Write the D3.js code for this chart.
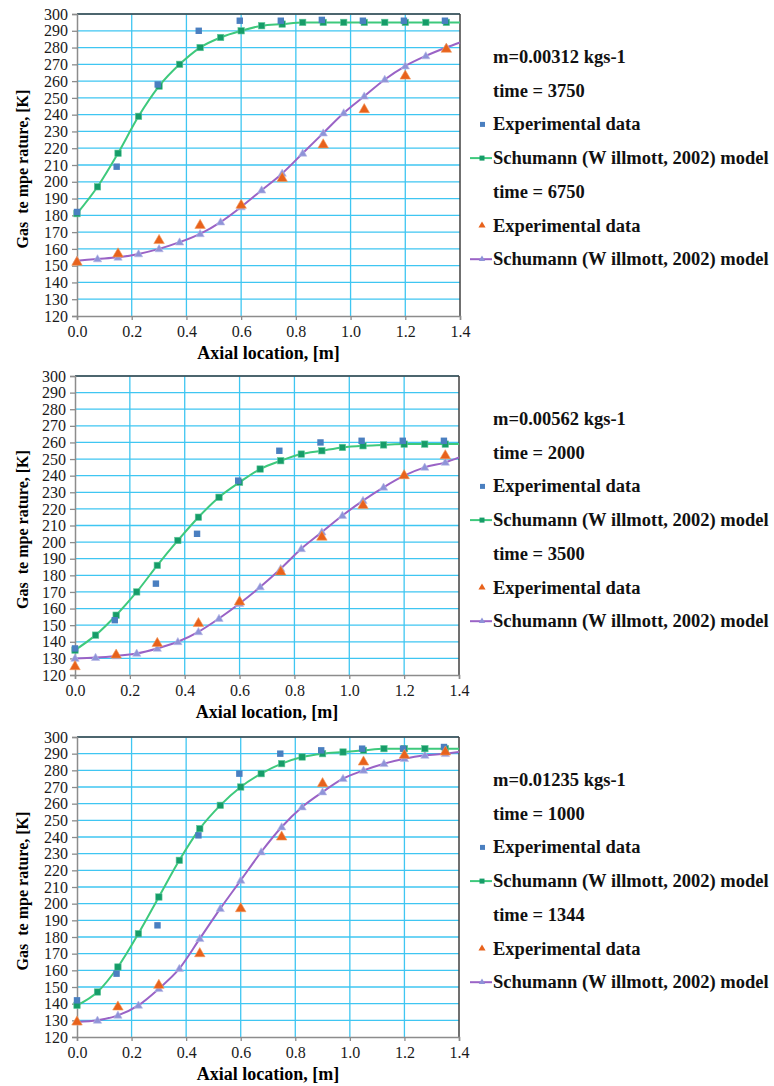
<!DOCTYPE html>
<html>
<head>
<meta charset="utf-8">
<script src="https://cdn.jsdelivr.net/npm/d3@7"></script>
<style>
  html, body { margin: 0; padding: 0; background: #fff; }
  svg { display: block; }
</style>
</head>
<body>
<svg id="chart" width="774" height="1086"></svg>
<script>
// ---------- data ----------
const yTicks = [120,130,140,150,160,170,180,190,200,210,220,230,240,250,260,270,280,290,300];
const xTicks = [0.0,0.2,0.4,0.6,0.8,1.0,1.2,1.4];

// model x positions (last point = line end at 1.4, no marker)
const xModel = [0,0.075,0.15,0.225,0.3,0.375,0.45,0.525,0.6,0.675,0.75,0.825,0.9,0.975,1.05,1.125,1.2,1.275,1.35,1.4];
const xExpBlue = [0,0.145,0.295,0.445,0.595,0.745,0.895,1.045,1.195,1.345];
const xExpOrange = [0,0.15,0.3,0.45,0.6,0.75,0.9,1.05,1.2,1.35];

// Panel 1: m=0.00312 kgs-1
const p1ModelA = [181,197,217,239,257,270,280,286,290,293,294,295,295,295,295,295,295,295,295,295];
const p1ExpA   = [182,209,258,290,296,296,296.5,296,296,296];
const p1ModelB = [153,154,155,157,160,164,169,176,185,195,205,217,229,241,251,261,269,275,280,283];
const p1ExpB   = [152,157,165,174,186,202,222,243,263,279];

// Panel 2: m=0.00562 kgs-1
const p2ModelA = [135,144,156,170,186,201,215,227,236,244,249,253,255,257,258,258.5,259,259,259,259];
const p2ExpA   = [136,153,175,205,237,255,260,261,261,261];
const p2ModelB = [130,130.5,131.5,133,136,140,146,154,163,173,184,196,206,216,225,233,240,245,248,251];
const p2ExpB   = [125,132,139,151,164,182,203,222,240,252];

// Panel 3: m=0.01235 kgs-1
const p3ModelA = [139,147,162,182,204,226,245,259,270,278,284,288,290,291,292,293,293,293,293,293];
const p3ExpA   = [142,158,187,241,278,290,292,293,293,294];
const p3ModelB = [129,130,133,139,149,161,179,197,214,231,246,258,267,275,280,284,287,289,290,291];
const p3ExpB   = [129,138,151,170,197,240,272,285,289,291];

const massLabels = ["m=0.00312 kgs-1", "m=0.00562 kgs-1", "m=0.01235 kgs-1"];
const timeA = ["time = 3750", "time = 2000", "time = 1000"];
const timeB = ["time = 6750", "time = 3500", "time = 1344"];
const expLabel = "Experimental data";
const modelLabel = "Schumann (W illmott, 2002) model";
const yTitle = "Gas  te mpe rature, [K]";
const xTitle = "Axial location, [m]";

// ---------- layout ----------
const FONT = "Liberation Serif";
const panels = [
  { top: 14,  bottom: 316,  left: 77, right: 460, mA: p1ModelA, eA: p1ExpA, mB: p1ModelB, eB: p1ExpB },
  { top: 376, bottom: 675,  left: 75, right: 459, mA: p2ModelA, eA: p2ExpA, mB: p2ModelB, eB: p2ExpB },
  { top: 737, bottom: 1037, left: 77, right: 459, mA: p3ModelA, eA: p3ExpA, mB: p3ModelB, eB: p3ExpB }
];

const C = {
  grid: "#3fc6f2",
  axis: "#8c8c8c",
  frame: "#404040",
  blue: "#4a7fc0",
  greenLine: "#3ec97c",
  greenMark: "#169c68",
  purpleLine: "#9a63c6",
  purpleMark: "#8f93d8",
  orange: "#e8621c"
};

const svg = d3.select("#chart");

panels.forEach((p, i) => {
  const x = d3.scaleLinear().domain([0, 1.4]).range([p.left, p.right]);
  const y = d3.scaleLinear().domain([120, 300]).range([p.bottom, p.top]);
  const g = svg.append("g");

  // grid
  g.append("g").selectAll("line.h").data(yTicks.slice(1)).join("line")
    .attr("x1", p.left).attr("x2", p.right)
    .attr("y1", d => y(d)).attr("y2", d => y(d))
    .attr("stroke", C.grid).attr("stroke-width", 1.3);
  g.append("g").selectAll("line.v").data(xTicks.slice(1, -1)).join("line")
    .attr("x1", d => x(d)).attr("x2", d => x(d))
    .attr("y1", p.top).attr("y2", p.bottom)
    .attr("stroke", C.grid).attr("stroke-width", 1.3);

  // frame top & right
  g.append("line").attr("x1", p.left).attr("x2", p.right).attr("y1", p.top).attr("y2", p.top)
    .attr("stroke", C.frame).attr("stroke-width", 1.5);
  g.append("line").attr("x1", p.right).attr("x2", p.right).attr("y1", p.top).attr("y2", p.bottom)
    .attr("stroke", C.frame).attr("stroke-width", 1.5);

  // axes
  const yAxis = d3.axisLeft(y).tickValues(yTicks).tickSize(5).tickPadding(4).tickFormat(d3.format("d"));
  const yg = g.append("g").attr("transform", `translate(${p.left},0)`).call(yAxis);
  const xAxis = d3.axisBottom(x).tickValues(xTicks).tickSize(4).tickPadding(6).tickFormat(d3.format(".1f"));
  const xg = g.append("g").attr("transform", `translate(0,${p.bottom})`).call(xAxis);
  [yg, xg].forEach(a => {
    a.attr("font-family", FONT).attr("font-size", 16);
    a.select(".domain").attr("stroke", C.axis).attr("stroke-width", 1.5);
    a.selectAll(".tick line").attr("stroke", C.axis).attr("stroke-width", 1.3);
    a.selectAll(".tick text").attr("font-family", FONT).attr("font-size", 16).attr("fill", "#1a1a1a");
  });

  // axis titles
  g.append("text")
    .attr("transform", `translate(22,${(p.top + p.bottom) / 2 + 4}) rotate(-90)`)
    .attr("text-anchor", "middle").attr("dominant-baseline", "central")
    .attr("font-family", FONT).attr("font-weight", "bold").attr("font-size", 16)
    .style("white-space", "pre")
    .text(yTitle);
  g.append("text")
    .attr("x", (p.left + p.right) / 2).attr("y", p.bottom + 43)
    .attr("text-anchor", "middle")
    .attr("font-family", FONT).attr("font-weight", "bold").attr("font-size", 18)
    .text(xTitle);

  // model lines
  const line = d3.line().x((d, k) => x(xModel[k])).y(d => y(d)).curve(d3.curveMonotoneX);
  g.append("path").attr("d", line(p.mA)).attr("fill", "none")
    .attr("stroke", C.greenLine).attr("stroke-width", 2);
  g.append("path").attr("d", line(p.mB)).attr("fill", "none")
    .attr("stroke", C.purpleLine).attr("stroke-width", 2);

  const tri = d3.symbol().type(d3.symbolTriangle);

  // model markers (not at line end)
  const mk = xModel.slice(0, -1);
  g.append("g").selectAll("path").data(mk).join("path")
    .attr("transform", (d, k) => `translate(${x(d)},${y(p.mB[k]) + 0.5})`)
    .attr("d", tri.size(30)())
    .attr("fill", C.purpleMark).attr("stroke", "#b9bbe8").attr("stroke-width", 0.6);
  g.append("g").selectAll("rect").data(mk).join("rect")
    .attr("x", d => x(d) - 3.2).attr("y", (d, k) => y(p.mA[k]) - 3.2)
    .attr("width", 6.4).attr("height", 6.4)
    .attr("fill", C.greenMark).attr("stroke", "#5fc99a").attr("stroke-width", 0.6);

  // experimental
  g.append("g").selectAll("rect").data(xExpBlue).join("rect")
    .attr("x", d => x(d) - 3.2).attr("y", (d, k) => y(p.eA[k]) - 3.2)
    .attr("width", 6.4).attr("height", 6.4)
    .attr("fill", C.blue);
  g.append("g").selectAll("path").data(xExpOrange).join("path")
    .attr("transform", (d, k) => `translate(${x(d)},${y(p.eB[k])})`)
    .attr("d", tri.size(48)())
    .attr("fill", C.orange).attr("stroke", "#f39a5a").attr("stroke-width", 0.6);

  // legend
  const lx = 493, ly0 = p.top + 43, dy = 33.7;
  const labels = [massLabels[i], timeA[i], expLabel, modelLabel, timeB[i], expLabel, modelLabel];
  g.append("g").selectAll("text").data(labels).join("text")
    .attr("x", lx).attr("y", (d, k) => ly0 + k * dy)
    .attr("dominant-baseline", "central")
    .attr("font-family", FONT).attr("font-weight", "bold").attr("font-size", 18.5)
    .style("white-space", "pre")
    .attr("fill", "#111")
    .text(d => d);
  // legend symbols
  const sy = k => ly0 + k * dy;
  g.append("rect").attr("x", 480).attr("y", sy(2) - 2.5).attr("width", 5).attr("height", 5).attr("fill", C.blue);
  g.append("line").attr("x1", 470).attr("x2", 492).attr("y1", sy(3)).attr("y2", sy(3))
    .attr("stroke", C.greenLine).attr("stroke-width", 2);
  g.append("rect").attr("x", 479.5).attr("y", sy(3) - 2.5).attr("width", 5).attr("height", 5).attr("fill", C.greenMark);
  g.append("path").attr("transform", `translate(482,${sy(5)})`).attr("d", tri.size(22)()).attr("fill", C.orange);
  g.append("line").attr("x1", 470).attr("x2", 492).attr("y1", sy(6)).attr("y2", sy(6))
    .attr("stroke", C.purpleLine).attr("stroke-width", 2);
  g.append("path").attr("transform", `translate(482,${sy(6)})`).attr("d", tri.size(18)()).attr("fill", C.purpleMark);
});
</script>
</body>
</html>
